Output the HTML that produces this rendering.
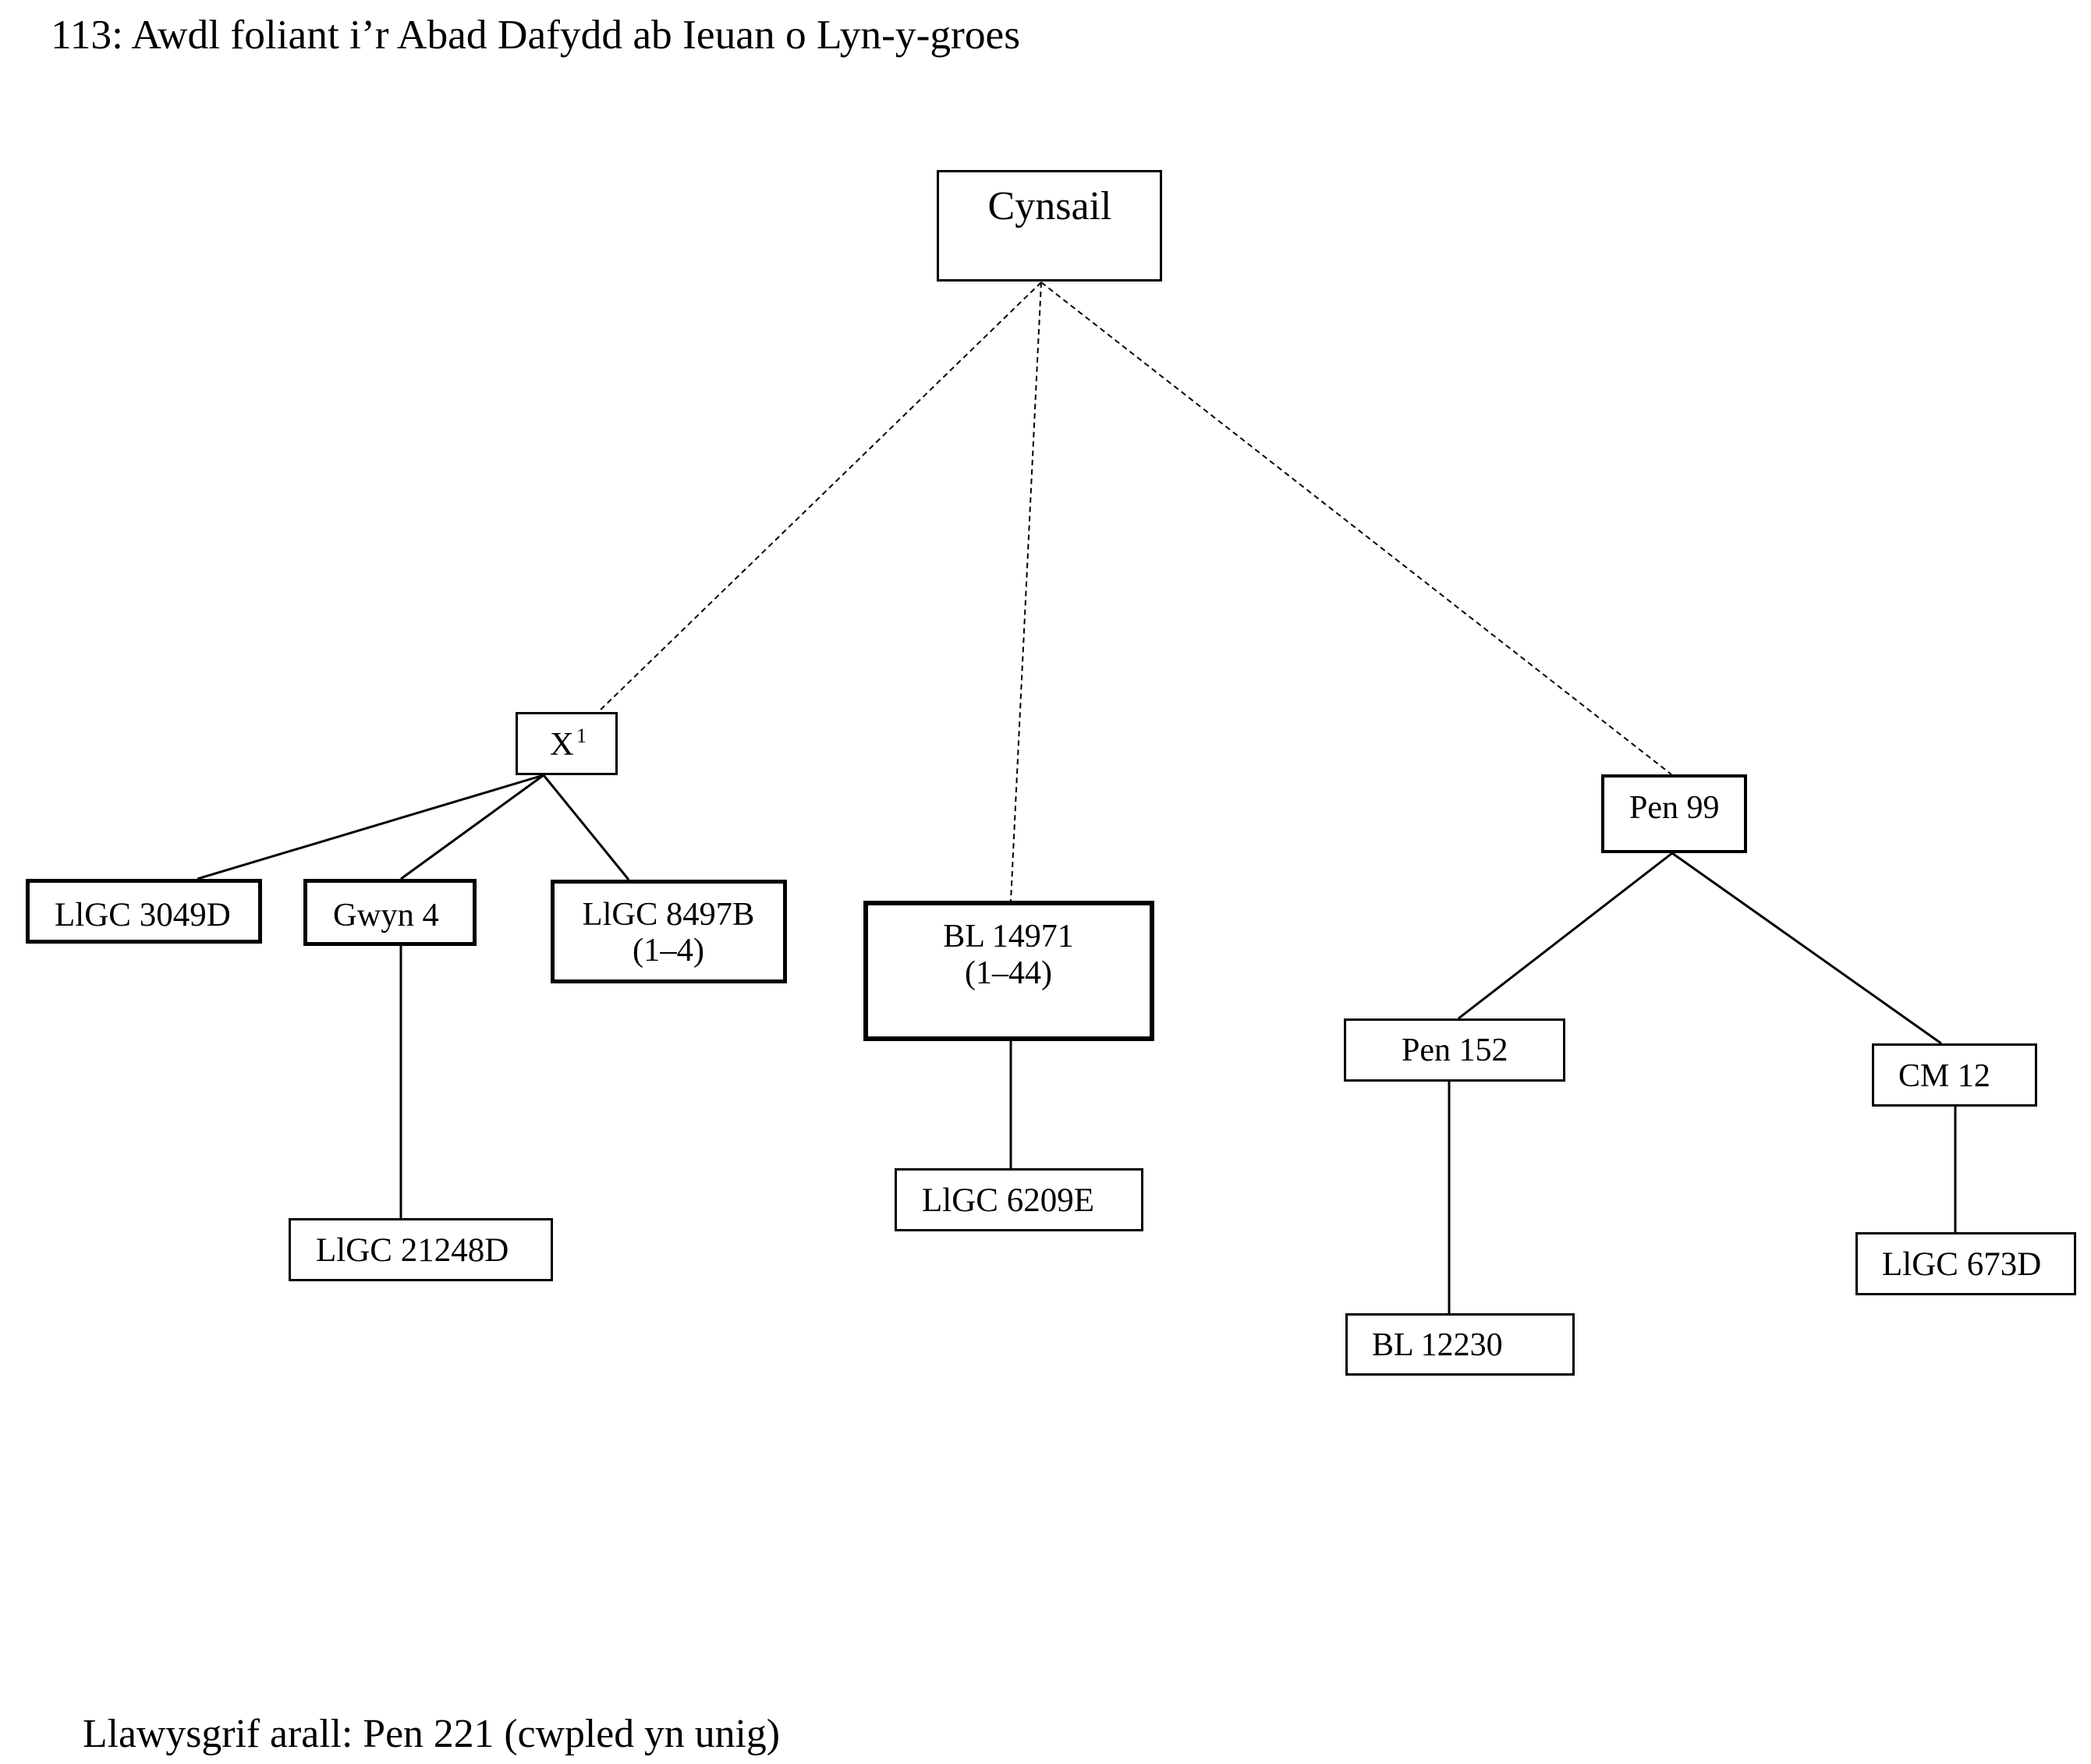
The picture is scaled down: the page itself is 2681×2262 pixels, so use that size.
<!DOCTYPE html>
<html>
<head>
<meta charset="utf-8">
<style>
  html, body { margin: 0; padding: 0; background: #ffffff; }
  body { width: 2681px; height: 2262px; overflow: hidden; }
  svg { display: block; }
  text { font-family: "Liberation Serif", "Times New Roman", serif; fill: #000; }
</style>
</head>
<body>
<svg width="2681" height="2262" viewBox="0 0 2681 2262" xmlns="http://www.w3.org/2000/svg">
  <rect x="0" y="0" width="2681" height="2262" fill="#fff"/>

  <!-- Title -->
  <text x="65" y="62" font-size="53" textLength="1243" lengthAdjust="spacingAndGlyphs">113: Awdl foliant i’r Abad Dafydd ab Ieuan o Lyn-y-groes</text>

  <!-- Dashed connectors from Cynsail -->
  <g stroke="#000" stroke-width="2" stroke-dasharray="7 5" fill="none">
    <line x1="1335" y1="362" x2="767" y2="913"/>
    <line x1="1335" y1="362" x2="1296" y2="1155"/>
    <line x1="1335" y1="362" x2="2143" y2="993"/>
  </g>

  <!-- Solid connectors -->
  <g stroke="#000" stroke-width="3" fill="none">
    <line x1="697" y1="994" x2="253" y2="1127"/>
    <line x1="697" y1="994" x2="514" y2="1127"/>
    <line x1="697" y1="994" x2="806" y2="1128"/>
    <line x1="514" y1="1213" x2="514" y2="1562"/>
    <line x1="1296" y1="1335" x2="1296" y2="1498"/>
    <line x1="2144" y1="1094" x2="1870" y2="1306"/>
    <line x1="2144" y1="1094" x2="2489" y2="1338"/>
    <line x1="1858" y1="1387" x2="1858" y2="1684"/>
    <line x1="2507" y1="1419" x2="2507" y2="1580"/>
  </g>

  <!-- Boxes (outer coords; rect inset by half stroke) -->
  <g fill="#fff" stroke="#000">
    <!-- Cynsail -->
    <rect x="1202.5" y="219.5" width="286" height="140" stroke-width="3"/>
    <!-- X1 -->
    <rect x="662.5" y="914.5" width="128" height="78" stroke-width="3"/>
    <!-- LlGC 3049D -->
    <rect x="35.5" y="1129.5" width="298" height="78" stroke-width="5"/>
    <!-- Gwyn 4 -->
    <rect x="391.5" y="1129.5" width="217" height="81" stroke-width="5"/>
    <!-- LlGC 8497B -->
    <rect x="708.5" y="1130.5" width="298" height="128" stroke-width="5"/>
    <!-- BL 14971 -->
    <rect x="1110" y="1158" width="367" height="174" stroke-width="6"/>
    <!-- LlGC 6209E -->
    <rect x="1148.5" y="1499.5" width="316" height="78" stroke-width="3"/>
    <!-- LlGC 21248D -->
    <rect x="371.5" y="1563.5" width="336" height="78" stroke-width="3"/>
    <!-- Pen 99 -->
    <rect x="2055" y="995" width="183" height="97" stroke-width="4"/>
    <!-- Pen 152 -->
    <rect x="1724.5" y="1307.5" width="281" height="78" stroke-width="3"/>
    <!-- BL 12230 -->
    <rect x="1726.5" y="1685.5" width="291" height="77" stroke-width="3"/>
    <!-- CM 12 -->
    <rect x="2401.5" y="1339.5" width="209" height="78" stroke-width="3"/>
    <!-- LlGC 673D -->
    <rect x="2380.5" y="1581.5" width="280" height="78" stroke-width="3"/>
  </g>

  <!-- Labels -->
  <text x="1346" y="281" font-size="52" text-anchor="middle">Cynsail</text>

  <text x="705" y="968" font-size="42.5">X</text>
  <text x="739" y="952" font-size="26">1</text>

  <text x="70" y="1187" font-size="43">LlGC 3049D</text>
  <text x="427" y="1187" font-size="42.5">Gwyn 4</text>

  <text x="857" y="1186" font-size="42.5" text-anchor="middle">LlGC 8497B</text>
  <text x="857" y="1232" font-size="42.5" text-anchor="middle">(1–4)</text>

  <text x="1293" y="1214" font-size="42" text-anchor="middle">BL 14971</text>
  <text x="1293" y="1261" font-size="42" text-anchor="middle">(1–44)</text>

  <text x="1182" y="1553" font-size="43">LlGC 6209E</text>
  <text x="405" y="1617" font-size="43">LlGC 21248D</text>

  <text x="2089" y="1049" font-size="42">Pen 99</text>
  <text x="1797" y="1360" font-size="42">Pen 152</text>
  <text x="1759" y="1738" font-size="42">BL 12230</text>
  <text x="2434" y="1393" font-size="42">CM 12</text>
  <text x="2413" y="1635" font-size="43">LlGC 673D</text>

  <!-- Footer -->
  <text x="106" y="2240" font-size="52" textLength="894" lengthAdjust="spacingAndGlyphs">Llawysgrif arall: Pen 221 (cwpled yn unig)</text>
</svg>
</body>
</html>
